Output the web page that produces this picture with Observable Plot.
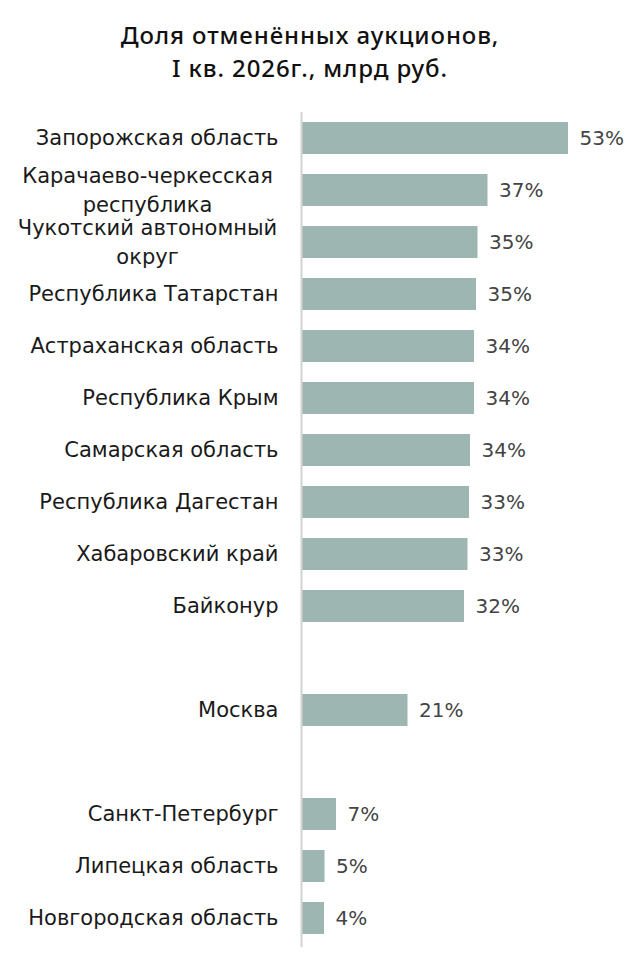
<!DOCTYPE html>
<html>
<head>
<meta charset="utf-8">
<script src="https://cdn.jsdelivr.net/npm/d3@7"></script>
<script src="https://cdn.jsdelivr.net/npm/@observablehq/plot@0.6"></script>
<style>
  html, body { margin: 0; padding: 0; background: #fff; }
  #wrap { width: 632px; height: 960px; position: relative; font-family: "Noto Sans", sans-serif; }
  #title { position: absolute; top: 18px; left: 0; width: 620px; text-align: center;
           font-size: 24px; font-weight: 500; letter-spacing: 0.9px; line-height: 33px; color: #111; }
  #chart { position: absolute; top: 100px; left: 0; }
</style>
</head>
<body>
<div id="wrap">
  <div id="title">Доля отменённых аукционов,<br>I кв. 2026г., млрд руб.</div>
  <div id="chart"></div>
</div>
<script>
const regions = [
  "Запорожская область",
  "Карачаево-черкесская\nреспублика",
  "Чукотский автономный\nокруг",
  "Республика Татарстан",
  "Астраханская область",
  "Республика Крым",
  "Самарская область",
  "Республика Дагестан",
  "Хабаровский край",
  "Байконур",
  "Москва",
  "Санкт-Петербург",
  "Липецкая область",
  "Новгородская область"
];
const shares = [53.2, 37.1, 35.1, 34.8, 34.4, 34.4, 33.6, 33.4, 33.1, 32.4, 21.1, 6.8, 4.5, 4.4];
const gaps = ["gap1", "gap2"];
const rowOrder = [...regions.slice(0, 10), gaps[0], regions[10], gaps[1], ...regions.slice(11)];

const data = regions.map((r, i) => ({region: r, value: shares[i]}));
const isGap = d => gaps.includes(d);
const isMulti = d => d.includes("\n");

const chart = Plot.plot({
  width: 632,
  height: 860,
  marginLeft: 302,
  marginRight: 0,
  marginTop: 12,
  marginBottom: 13,
  style: {fontFamily: "DejaVu Sans, sans-serif", fontSize: "20px", color: "#1a1a1a", background: "#fff"},
  x: {domain: [0, 66], axis: null},
  y: {domain: rowOrder, paddingInner: 0.385, paddingOuter: 0.22, align: 0.43, label: null},
  marks: [
    Plot.axisY({tickSize: 0, tickPadding: 24, fill: "#1a1a1a", fontSize: 21, letterSpacing: 0.4,
      tickFormat: d => (isGap(d) || isMulti(d)) ? "" : d, label: null}),
    Plot.axisY({tickSize: 0, tickPadding: 155, textAnchor: "middle", lineHeight: 1.36, fill: "#1a1a1a", fontSize: 21, letterSpacing: 0.4,
      dy: -2, tickFormat: d => isMulti(d) ? d : "", label: null}),
    Plot.barX(data, {x: "value", y: "region", fill: "#9db6b2"}),
    Plot.ruleX([0], {stroke: "#d4d4d4", strokeWidth: 2, dx: -1}),
    Plot.text(data, {x: "value", y: "region", text: d => Math.round(d.value) + "%",
      textAnchor: "start", dx: 11, fill: "#444", fontSize: 20})
  ]
});
document.getElementById("chart").appendChild(chart);
</script>
</body>
</html>
